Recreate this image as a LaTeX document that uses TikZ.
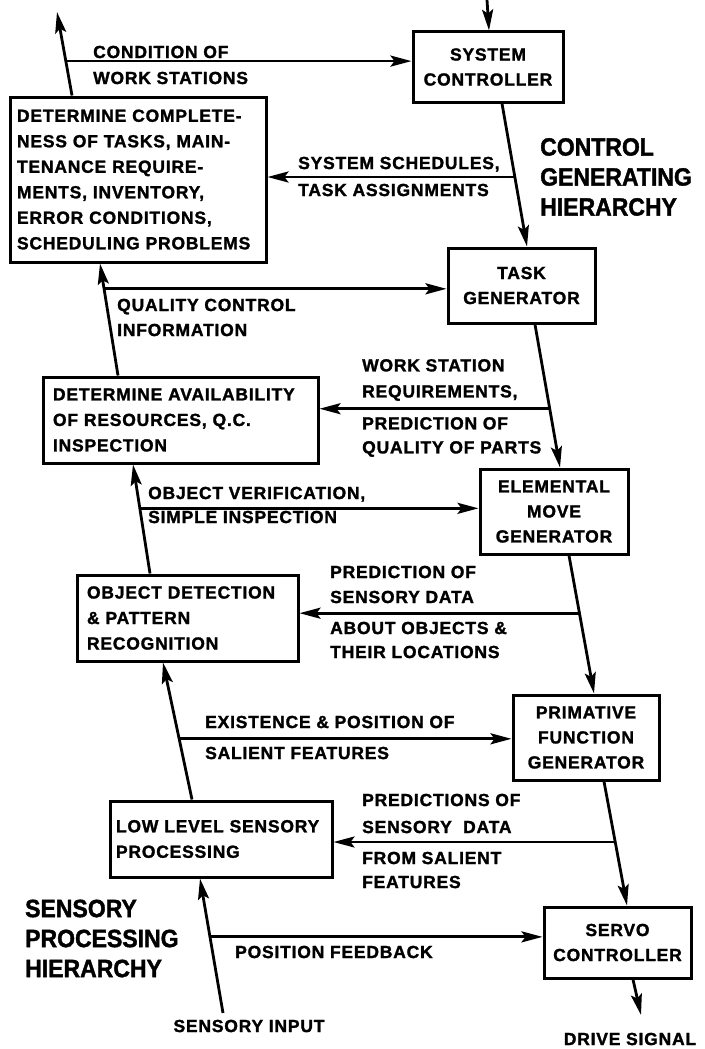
\documentclass[tikz,border=0pt]{standalone}
\usepackage{fontspec}
\setmainfont{Liberation Sans}[LetterSpace=4.5, BoldFeatures={FakeBold=1.5}]
\newfontfamily\headfont{Liberation Sans}[FakeStretch=0.92, BoldFeatures={FakeBold=1.5}]
\usetikzlibrary{arrows.meta,calc}
% label / box text with a chosen line spacing
\newcommand\lf[1]{\fontsize{17.5}{#1}\selectfont\bfseries}
\newcommand\hf{\headfont\fontsize{25}{30}\selectfont\bfseries}
\begin{document}
\begin{tikzpicture}[x=1pt,y=-1pt,
  blk/.style={draw, line width=3pt, inner ysep=0pt},
  cbox/.style={blk, align=center, inner xsep=0pt, font=\lf{25}},
  lbox/.style={blk, align=left, font=\lf{25.5}},
  wire/.style={line width=2.8pt},
  flow/.style={wire, -{Stealth[length=21pt,width=11pt,inset=4pt]}},
  lab/.style={anchor=west, inner sep=0pt, align=left, font=\lf{#1}},
  lab/.default=25,
  tag/.style={anchor=center, inner sep=0pt, font=\lf{25}},
  head/.style={anchor=west, inner sep=0pt, align=left, font=\hf}]
\useasboundingbox (0,0) rectangle (704,1049);

% ---- control generating hierarchy (right column)
\node[cbox, minimum width=150pt, minimum height=70pt] (sc) at (488,67) {SYSTEM\\CONTROLLER};
\node[cbox, minimum width=147pt, minimum height=75pt] (tg) at (521.5,285.5) {TASK\\GENERATOR};
\node[cbox, minimum width=148pt, minimum height=85pt] (em) at (554,511.5) {ELEMENTAL\\MOVE\\GENERATOR};
\node[cbox, minimum width=146pt, minimum height=85pt] (pf) at (586,737.5) {PRIMATIVE\\FUNCTION\\GENERATOR};
\node[cbox, minimum width=147pt, minimum height=71pt] (sv) at (617.5,942.5) {SERVO\\CONTROLLER};

% ---- sensory processing hierarchy (left column)
\node[lbox, minimum height=165pt, inner xsep=7pt, text width=242pt] (b1) at (138,179.5)
  {DETERMINE COMPLETE-\\NESS OF TASKS, MAIN-\\TENANCE REQUIRE-\\MENTS, INVENTORY,\\ERROR CONDITIONS,\\SCHEDULING PROBLEMS};
\node[lbox, minimum height=86pt, inner xsep=10pt, text width=255pt] (b2) at (180.5,420)
  {DETERMINE AVAILABILITY\\OF RESOURCES, Q.C.\\INSPECTION};
\node[lbox, minimum height=86pt, inner xsep=10pt, text width=201pt] (b3) at (187.5,618)
  {OBJECT DETECTION\\\& PATTERN\\RECOGNITION};
\node[lbox, minimum height=76pt, inner xsep=6pt, text width=210pt] (b4) at (221,839)
  {LOW LEVEL SENSORY\\PROCESSING};

% ---- downward control chain
\coordinate (cin) at (487,0);
\coordinate (c1a) at ([xshift=14pt]sc.south);  \coordinate (c1b) at ([xshift=5.5pt]tg.north);
\coordinate (c2a) at ([xshift=13.5pt]tg.south); \coordinate (c2b) at ([xshift=6pt]em.north);
\coordinate (c3a) at ([xshift=15pt]em.south);  \coordinate (c3b) at ([xshift=8pt]pf.north);
\coordinate (c4a) at ([xshift=18pt]pf.south);  \coordinate (c4b) at ([xshift=9.5pt]sv.north);
\coordinate (dout) at (641,1015);
\draw[flow] (cin) -- ([xshift=1pt]sc.north);
\draw[flow] (c1a) -- (c1b);
\draw[flow] (c2a) -- (c2b);
\draw[flow] (c3a) -- (c3b);
\draw[flow] (c4a) -- (c4b);
\draw[flow] ([xshift=15.5pt]sv.south) -- (dout);

% ---- upward sensory chain
\coordinate (sin) at (223,1013);
\coordinate (s1a) at ([xshift=-29pt]b4.north);   \coordinate (s1b) at ([xshift=-24.5pt]b3.south);
\coordinate (s2a) at ([xshift=-37.5pt]b3.north); \coordinate (s2b) at ([xshift=-47.5pt]b2.south);
\coordinate (s3a) at ([xshift=-62.5pt]b2.north); \coordinate (s3b) at ([xshift=-38pt]b1.south);
\coordinate (s4a) at ([xshift=-66pt]b1.north);   \coordinate (sout) at (57,12);
\draw[flow] (sin) -- ([xshift=-21pt]b4.south);
\draw[flow] (s1a) -- (s1b);
\draw[flow] (s2a) -- (s2b);
\draw[flow] (s3a) -- (s3b);
\draw[flow] (s4a) -- (sout);

% ---- cross links between the two hierarchies
\coordinate (h1) at ($(s4a)!0.412!(sout)$);
\coordinate (h2) at ($(c1a)!0.514!(c1b)$);
\coordinate (h3) at ($(s3a)!0.774!(s3b)$);
\coordinate (h4) at ($(c2a)!0.589!(c2b)$);
\coordinate (h5) at ($(s2a)!0.598!(s2b)$);
\coordinate (h6) at ($(c3a)!0.418!(c3b)$);
\coordinate (h7) at ($(s1a)!0.443!(s1b)$);
\coordinate (h8) at ($(c4a)!0.488!(c4b)$);
\coordinate (h9) at ($(sin)!0.566!([xshift=-21pt]b4.south)$);
\draw[flow] (h1) -- (h1 -| sc.west);
\draw[flow] (h2) -- (h2 -| b1.east);
\draw[flow] (h3) -- (h3 -| tg.west);
\draw[flow] (h4) -- (h4 -| b2.east);
\draw[flow] (h5) -- (h5 -| em.west);
\draw[flow] (h6) -- (h6 -| b3.east);
\draw[flow] (h7) -- (h7 -| pf.west);
\draw[flow] (h8) -- (h8 -| b4.east);
\draw[flow] (h9) -- (h9 -| sv.west);

% ---- link labels
\node[lab=26] (t1) at (93,65) {CONDITION OF\\WORK STATIONS};
\node[lab=27] (t2) at (298,176.5) {SYSTEM SCHEDULES,\\TASK ASSIGNMENTS};
\node[lab=25] (t3) at (117,317.5) {QUALITY CONTROL\\INFORMATION};
\node[lab=26] (t4a) at (362,380) {WORK STATION\\REQUIREMENTS,};
\node[lab=24] (t4b) at (362,437) {PREDICTION OF\\QUALITY OF PARTS};
\node[lab=24] (t5) at (148,505) {OBJECT VERIFICATION,\\SIMPLE INSPECTION};
\node[lab=25] (t6a) at (330,584.5) {PREDICTION OF\\SENSORY DATA};
\node[lab=24] (t6b) at (330,640) {ABOUT OBJECTS \&\\THEIR LOCATIONS};
\node[lab=31] (t7) at (205,737.5) {EXISTENCE \& POSITION OF\\SALIENT FEATURES};
\node[lab=27] (t8a) at (362,813.5) {PREDICTIONS OF\\SENSORY\ \ DATA};
\node[lab=24] (t8b) at (362,870) {FROM SALIENT\\FEATURES};
\node[lab] (t9) at (235,952) {POSITION FEEDBACK};
\node[tag] (tin) at (249,1026) {SENSORY INPUT};
\node[tag] (tout) at (630,1039) {DRIVE SIGNAL};

% ---- hierarchy titles
\node[head] (hc) at (540,177) {CONTROL\\GENERATING\\HIERARCHY};
\node[head] (hs) at (25,938.5) {SENSORY\\PROCESSING\\HIERARCHY};
\end{tikzpicture}
\end{document}
